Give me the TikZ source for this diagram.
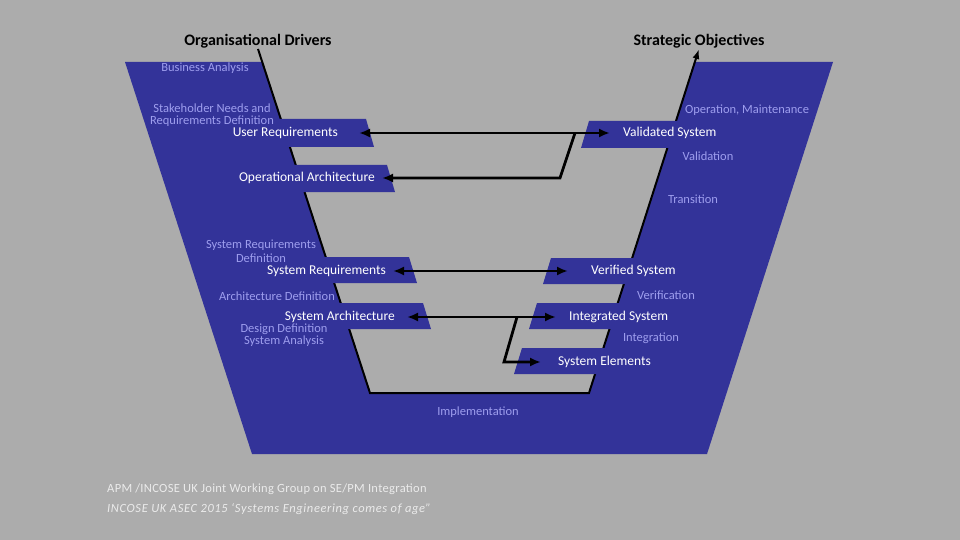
\documentclass[tikz,border=0pt]{standalone}
\usepackage{fontspec}
\setmainfont{Carlito}
\usetikzlibrary{arrows.meta,calc}

\definecolor{bggray}{RGB}{172,172,172}
\definecolor{vblue}{RGB}{51,51,153}
\definecolor{lav}{RGB}{158,158,238}
\definecolor{footgray}{RGB}{235,235,235}

\tikzset{
  phase/.style={text=lav, font=\fontsize{12.5}{12.5}\selectfont, align=center, inner sep=0pt},
  item/.style={text=white, font=\fontsize{13.5}{14}\selectfont, inner sep=0pt},
  goal/.style={font=\bfseries\fontsize{16}{16}\selectfont, inner sep=1pt},
  link/.style={line width=2.8pt, {Latex[length=11pt,width=9pt]}-{Latex[length=11pt,width=9pt]}},
  feed/.style={line width=2.8pt, line join=miter, -{Latex[length=11pt,width=9pt]}},
  foot/.style={text=footgray, font=\fontsize{12.5}{12.5}\selectfont\addfontfeature{LetterSpace=2.5}, inner sep=0pt, anchor=west},
}

\begin{document}
\begin{tikzpicture}[x=1pt, y=-1pt, >=Latex]
% 1 unit = 1 px of the 960x540 slide, y downwards
\fill[bggray] (0,0) rectangle (960,540);
\useasboundingbox (0,0) rectangle (960,540);
\fill[vblue] (125,62) -- (833,62) -- (707,454) -- (252,454) -- cycle;

\node[goal, anchor=south] (od) at (258,49) {Organisational Drivers};
\node[goal, anchor=south] (so) at (699,49) {Strategic Objectives};
\coordinate (vl) at (370,393);
\coordinate (vr) at (589,393);
\fill[bggray] (od.south) -- (vl) -- (vr) -- (so.south) -- cycle;
\draw[line width=2pt, -{Latex[length=10pt,width=7pt]}] (od.south) -- (vl) -- (vr) -- (so.south);

% work products sticking out of the V
\foreach \ty/\by/\ex in {119/147/366, 165/192/387, 257/283/409, 303/329/423}
  \fill[vblue] (\ex-120,\ty) -- (\ex,\ty) -- (\ex+8,\by) -- (\ex-112,\by) -- cycle;
\foreach \ty/\by/\ex in {121/148/589, 258/284/551, 303/329/537, 348/374/522}
  \fill[vblue] (\ex,\ty) -- (\ex+120,\ty) -- (\ex+112,\by) -- (\ex-8,\by) -- cycle;

\node[item, anchor=east] (ur) at (338,133) {User Requirements};
\node[item, anchor=east] (oa) at (375,178) {Operational Architecture};
\node[item, anchor=east] (sr) at (386,271) {System Requirements};
\node[item, anchor=east] (sa) at (395,317) {System Architecture};
\node[item, anchor=west] (vs) at (623,133) {Validated System};
\node[item, anchor=west] (vfs) at (591,271) {Verified System};
\node[item, anchor=west] (is) at (569,317) {Integrated System};
\node[item, anchor=west] (se) at (558,362) {System Elements};

\draw[link] ([xshift=21pt]ur.east) -- ([xshift=-13pt]vs.west);
\draw[link] ([xshift=7pt]sr.east) -- ([xshift=-23pt]vfs.west);
\draw[link] ([xshift=12pt]sa.east) -- ([xshift=-13pt]is.west);
\coordinate (j1) at (575,133);
\coordinate (k1) at (560,178);
\draw[feed] (j1) -- (k1) -- ([xshift=7pt]oa.east);
\coordinate (j2) at (517,317);
\coordinate (k2) at (504,362);
\draw[feed] (j2) -- (k2) -- ([xshift=-17pt]se.west);

% processes
\node[phase] (ba) at (205,68) {Business Analysis};
\node[phase] (snrd) at (212,115) {Stakeholder Needs and\\Requirements Definition};
\node[phase] (srd) at (261,251) {System Requirements\\[1.5pt]Definition};
\node[phase] (ad) at (277,296) {Architecture Definition};
\node[phase] (ddsa) at (284,335) {Design Definition\\System Analysis};
\node[phase] (om) at (747,110) {Operation, Maintenance};
\node[phase] (val) at (708,156) {Validation};
\node[phase] (tra) at (693,199) {Transition};
\node[phase] (ver) at (666,295) {Verification};
\node[phase] (int) at (651,338) {Integration};
\node[phase] (imp) at (478,412) {Implementation};

\node[foot] (f1) at (107,489) {APM /INCOSE UK Joint Working Group on SE/PM Integration};
\node[foot, font=\itshape\fontsize{12.5}{12.5}\selectfont\addfontfeature{LetterSpace=5}] (f2) at (107,509) {INCOSE UK ASEC 2015 ‘Systems Engineering comes of age”};
\end{tikzpicture}
\end{document}
